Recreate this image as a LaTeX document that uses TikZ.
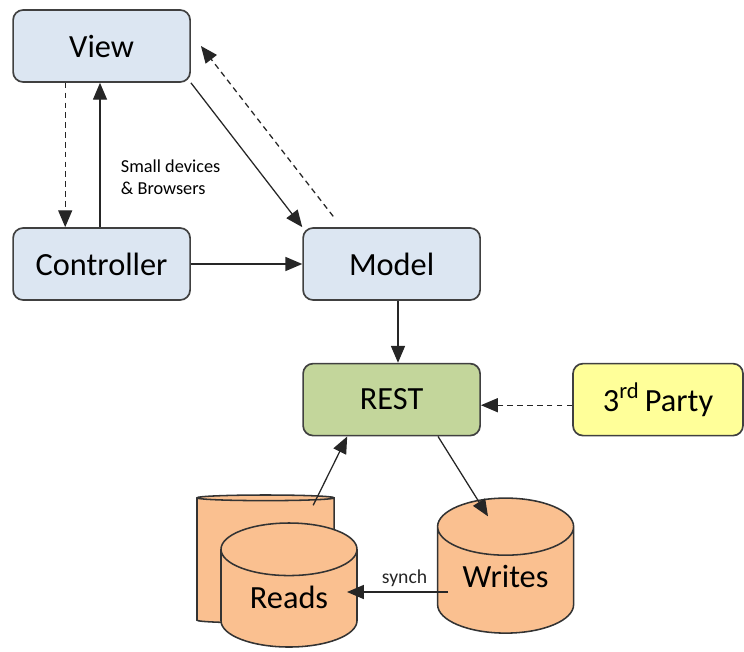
\documentclass[tikz,border=0pt]{standalone}
\usepackage{fontspec}
\setmainfont{Carlito}
\usetikzlibrary{positioning, arrows.meta, shapes.geometric}

\definecolor{mvcblue}{RGB}{220,230,242}
\definecolor{restgreen}{RGB}{195,214,155}
\definecolor{partyyellow}{RGB}{255,255,153}
\definecolor{dbpeach}{RGB}{250,192,144}

\begin{document}
\begin{tikzpicture}[
    % Style for the rounded boxes of the MVC part
    box/.style = {draw=black!75, line width=1.2pt, rounded corners=0.25cm,
        minimum width=4.425cm, minimum height=1.8cm,
        font=\fontsize{23}{27}\selectfont},
    % Style for the database cylinders
    db/.style = {draw=black!80, line width=1.1pt, fill=dbpeach, shape=cylinder,
        shape border rotate=90, aspect=0.6, anchor=shape center,
        minimum width=3.4cm, minimum height=3.375cm,
        font=\fontsize{23}{27}\selectfont},
    % Style for the arrows: solid with a filled head
    arrow/.style = {-{Triangle[length=12pt, width=10pt]}, line width=0.9pt, black!85},
    % Same head, dashed line
    dasharrow/.style = {arrow, dash pattern=on 4pt off 3pt}
]
    \useasboundingbox (0,0) rectangle (18.6,-16.275);

    % --- MVC ---
    \node[box, fill=mvcblue] (view) at (2.54, -1.15) {View};
    \node[box, fill=mvcblue] (controller) at (2.54, -6.6) {Controller};
    \node[box, fill=mvcblue] (model) at (9.79, -6.6) {Model};

    \node[anchor=west, align=left, font=\fontsize{13}{16}\selectfont] (devices)
        at (2.9, -4.43) {Small devices\\\& Browsers};

    % --- SERVICE ---
    \node[box, fill=restgreen] (rest) at (9.79, -9.99) {REST};
    \node[box, fill=partyyellow, minimum width=4.25cm] (party) at (16.45, -9.99) {3\textsuperscript{rd}\,Party};

    % --- STORAGE ---
    \node[db, minimum width=3.43cm, minimum height=3.2cm] (readsback) at (6.64, -13.975) {};
    \node[db, minimum height=3.1cm] (reads) at (7.225, -14.625) {\raisebox{9pt}{Reads}};
    \node[db] (writes) at (12.64, -14.14) {\raisebox{13pt}{Writes}};

    % --- ARROWS ---
    \draw[dasharrow] ([xshift=-0.91cm]view.south) -- ([xshift=-0.91cm]controller.north);
    \draw[arrow] ([xshift=-0.04cm]controller.north) -- ([xshift=-0.04cm]view.south);
    \draw[arrow] (view.south east) -- (model.north west);
    \draw[dasharrow] ([xshift=-1.46cm, yshift=0.27cm]model.north) -- ([xshift=0.25cm]view.east);
    \draw[arrow] (controller.east) -- (model.west);
    \draw[arrow] ([xshift=0.16cm]model.south) -- ([xshift=0.16cm]rest.north);
    \draw[dasharrow] ([yshift=-0.14cm]party.west) -- ([yshift=-0.14cm]rest.east);
    \draw[arrow] ([xshift=1.19cm, yshift=-0.275cm]readsback.north) -- ([xshift=-1.11cm]rest.south);
    \draw[arrow] ([xshift=1.16cm]rest.south) -- ([xshift=-0.44cm, yshift=-0.475cm]writes.north);
    \draw[arrow] ([shift={(-1.44cm,-0.66cm)}]writes.shape center)
        -- node[above, pos=0.43, font=\fontsize{14}{17}\selectfont] (synch) {synch}
        ([shift={(1.45cm,-0.175cm)}]reads.shape center);

\end{tikzpicture}
\end{document}
